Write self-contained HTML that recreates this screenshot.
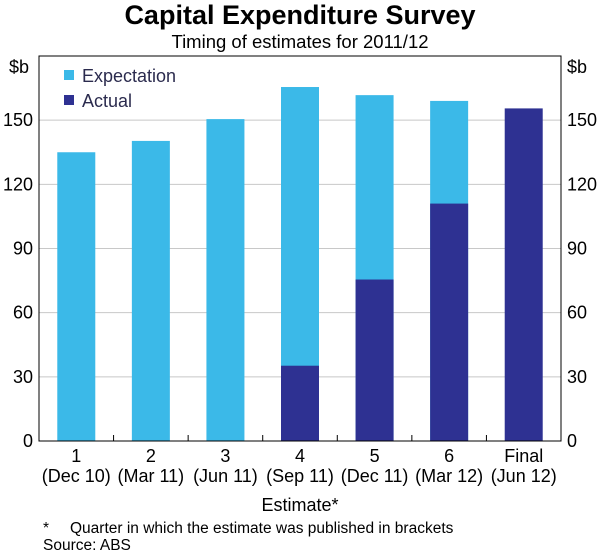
<!DOCTYPE html>
<html><head><meta charset="utf-8"><style>
body{margin:0;background:#fff;font-family:"Liberation Sans",sans-serif;}
</style></head><body>
<svg id="chart" width="600" height="554" xmlns="http://www.w3.org/2000/svg" font-family="Liberation Sans, sans-serif">
<text x="300" y="24" text-anchor="middle" font-size="27" font-weight="bold" fill="#000">Capital Expenditure Survey</text>
<text x="300" y="48" text-anchor="middle" font-size="18.5" fill="#000">Timing of estimates for 2011/12</text>
<g id="grid"></g>
<g id="bars"></g>
<rect x="39" y="56" width="522" height="385" fill="none" stroke="#000" stroke-width="1"/>
<g id="axes"></g>
<text x="9" y="73" font-size="18">$b</text>
<text x="567" y="73" font-size="18">$b</text>
<g>
<rect x="64" y="70" width="10" height="10" fill="#3bb9e8"/>
<text x="82" y="82" font-size="18" fill="#2b2b4e">Expectation</text>
<rect x="64" y="95" width="10" height="10" fill="#2e3192"/>
<text x="82" y="107" font-size="18" fill="#2b2b4e">Actual</text>
</g>
<text x="300" y="511" text-anchor="middle" font-size="18">Estimate*</text>
<text x="43" y="533" font-size="15.5">*</text>
<text x="70" y="533" font-size="15.5">Quarter in which the estimate was published in brackets</text>
<text x="43" y="550" font-size="15.5">Source: ABS</text>
</svg>
<script>
const categories = ["1","2","3","4","5","6","Final"];
const subLabels = ["(Dec 10)","(Mar 11)","(Jun 11)","(Sep 11)","(Dec 11)","(Mar 12)","(Jun 12)"];
const expectation = [135, 140.3, 150.5, 165.5, 161.7, 159, 0];
const actual = [0, 0, 0, 35.2, 75.5, 111, 155.5];
const yTicks = [0, 30, 60, 90, 120, 150];
const ns="http://www.w3.org/2000/svg";
const L=39,R=561,T=56,B=441,yMax=180;
const y=v=>B-(v/yMax)*(B-T);
const cw=(R-L)/categories.length;
const xc=i=>L+cw*(i+0.5);
function mk(tag,attrs,parent){const e=document.createElementNS(ns,tag);for(const k in attrs)e.setAttribute(k,attrs[k]);document.getElementById(parent).appendChild(e);return e;}
yTicks.forEach(t=>{
 if(t>0){const g=mk('line',{x1:L,x2:R,y1:y(t),y2:y(t),stroke:'#c8c8c8','stroke-width':1},'grid');
 
 }
 const a=mk('text',{x:L-6,y:y(t)+6,'text-anchor':'end','font-size':18},'axes');a.textContent=t;
 
 
 const b=mk('text',{x:R+6,y:y(t)+6,'text-anchor':'start','font-size':18},'axes');b.textContent=t;
 
 
});
categories.forEach((c,i)=>{
 const bw=38;
 if(expectation[i]>0){const r=mk('rect',{x:xc(i)-bw/2,y:y(expectation[i]),width:bw,height:B-y(expectation[i]),fill:'#3bb9e8'},'bars');
 
 }
 if(actual[i]>0){const r=mk('rect',{x:xc(i)-bw/2,y:y(actual[i]),width:bw,height:B-y(actual[i]),fill:'#2e3192'},'bars');
 
 }
 if(i>0){const tk=mk('line',{x1:L+cw*i,x2:L+cw*i,y1:B,y2:B-6,stroke:'#000'},'axes');
 
 }
 const t1=mk('text',{x:xc(i),y:B+21,'text-anchor':'middle','font-size':18},'axes');t1.textContent=c;
 
 
 const t2=mk('text',{x:xc(i),y:B+41,'text-anchor':'middle','font-size':18},'axes');t2.textContent=subLabels[i];
 
 
});
</script>
</body></html>
